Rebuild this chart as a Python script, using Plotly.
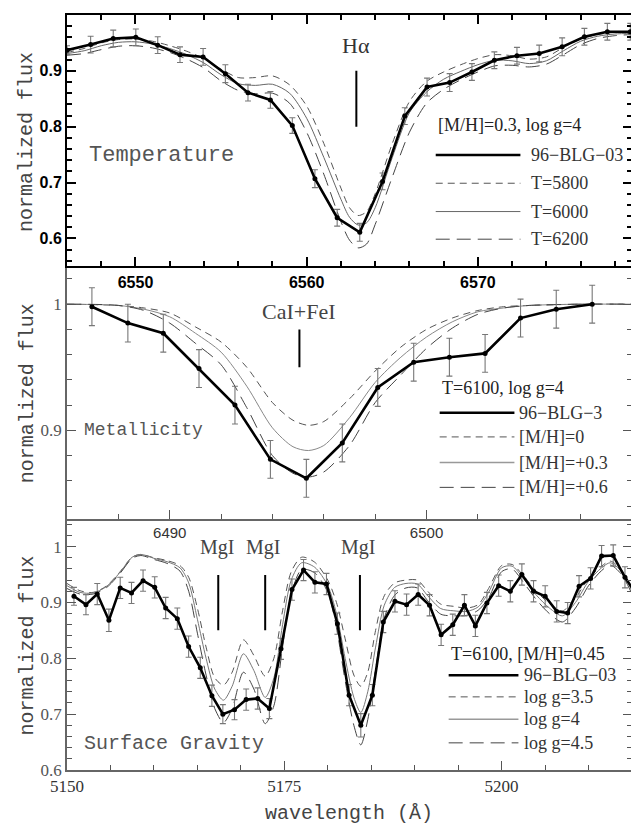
import plotly.graph_objects as go

# ---------------- Top panel: H-alpha, Temperature ----------------
ha_wave = [6546.0, 6547.38, 6548.70, 6550.02, 6551.3, 6552.6, 6553.95, 6555.25, 6556.57,
           6557.88, 6559.16, 6560.48, 6561.78, 6563.1, 6564.43, 6565.73, 6567.03, 6568.35,
           6569.65, 6570.96, 6572.28, 6573.58, 6574.92, 6576.22, 6577.56, 6578.9]
ha_flux = [0.937, 0.947, 0.958, 0.960, 0.946, 0.929, 0.925, 0.895, 0.861, 0.848, 0.802,
           0.707, 0.637, 0.611, 0.702, 0.819, 0.871, 0.879, 0.898, 0.919, 0.927, 0.931,
           0.943, 0.961, 0.970, 0.970]
ha_err = [0.008, 0.015, 0.015, 0.015, 0.015, 0.014, 0.015, 0.016, 0.015, 0.015, 0.014,
          0.016, 0.015, 0.016, 0.015, 0.015, 0.016, 0.016, 0.015, 0.015, 0.015, 0.015,
          0.016, 0.015, 0.015, 0.015]
ha_model_wave = [6546, 6547, 6548, 6549, 6550, 6551, 6552, 6553, 6554, 6555, 6556, 6557,
                 6558, 6559, 6560, 6561, 6562, 6562.5, 6563, 6563.5, 6564, 6565, 6566,
                 6567, 6568, 6569, 6570, 6571, 6572, 6573, 6574, 6575, 6576, 6577, 6578, 6579]
ha_t5800 = [0.933, 0.940, 0.950, 0.956, 0.957, 0.953, 0.945, 0.935, 0.922, 0.903, 0.888,
            0.888, 0.891, 0.875, 0.837, 0.770, 0.690, 0.655, 0.641, 0.648, 0.680, 0.770,
            0.845, 0.881, 0.898, 0.911, 0.922, 0.929, 0.927, 0.921, 0.925, 0.942, 0.957,
            0.965, 0.969, 0.970]
ha_t6000 = [0.931, 0.936, 0.945, 0.951, 0.952, 0.948, 0.940, 0.929, 0.914, 0.893, 0.877,
            0.874, 0.876, 0.860, 0.815, 0.745, 0.670, 0.638, 0.624, 0.628, 0.655, 0.745,
            0.825, 0.862, 0.885, 0.899, 0.911, 0.919, 0.918, 0.913, 0.918, 0.936, 0.953,
            0.962, 0.966, 0.967]
ha_t6200 = [0.928, 0.931, 0.938, 0.944, 0.945, 0.941, 0.933, 0.921, 0.905, 0.882, 0.865,
            0.859, 0.860, 0.842, 0.790, 0.715, 0.630, 0.597, 0.583, 0.590, 0.625, 0.710,
            0.790, 0.842, 0.867, 0.884, 0.898, 0.909, 0.910, 0.907, 0.912, 0.929, 0.947,
            0.958, 0.963, 0.965]
ha_xticks = [6550, 6560, 6570]
ha_yticks = [0.6, 0.7, 0.8, 0.9, 1.0]
ha_yticklabels = ["0.6", "0.7", "0.8", "0.9", "1"]

# ---------------- Middle panel: CaI+FeI, Metallicity ----------------
ca_wave = [6486.97, 6488.37, 6489.75, 6491.14, 6492.54, 6493.92, 6495.32, 6496.72,
           6498.10, 6499.50, 6500.89, 6502.28, 6503.66, 6505.05, 6506.45]
ca_flux = [0.998, 0.985, 0.977, 0.949, 0.920, 0.877, 0.862, 0.890, 0.934, 0.954, 0.958,
           0.961, 0.989, 0.996, 1.000]
ca_err = [0.015, 0.015, 0.015, 0.015, 0.015, 0.015, 0.015, 0.015, 0.015, 0.015, 0.015,
          0.015, 0.015, 0.015, 0.015]
ca_model_wave = [6486, 6488, 6489, 6490, 6491, 6492, 6493, 6494, 6494.8, 6495.4, 6496,
                 6497, 6498, 6499, 6500, 6501, 6502, 6503, 6504, 6506, 6508]
ca_mh00 = [1.000, 0.999, 0.997, 0.993, 0.982, 0.970, 0.950, 0.922, 0.908, 0.904, 0.907,
           0.925, 0.947, 0.966, 0.980, 0.989, 0.995, 0.998, 0.999, 1.000, 1.000]
ca_mh03 = [1.000, 0.999, 0.996, 0.990, 0.977, 0.962, 0.935, 0.902, 0.887, 0.884, 0.888,
           0.910, 0.938, 0.958, 0.974, 0.986, 0.994, 0.997, 0.999, 1.000, 1.000]
ca_mh06 = [1.000, 0.999, 0.995, 0.985, 0.969, 0.952, 0.918, 0.880, 0.866, 0.863, 0.867,
           0.888, 0.922, 0.944, 0.965, 0.981, 0.992, 0.997, 0.999, 1.000, 1.000]
ca_xticks = [6490, 6500]
ca_yticks = [0.9, 1.0]
ca_yticklabels = ["0.9", "1"]

# ---------------- Bottom panel: MgI triplet, Surface Gravity ----------------
mg_wave = [5150.80, 5152.18, 5153.48, 5154.82, 5156.12, 5157.42, 5158.75, 5160.09,
           5161.35, 5162.69, 5163.99, 5165.33, 5166.67, 5167.93, 5169.27, 5170.61,
           5171.94, 5173.28, 5174.62, 5175.88, 5177.21, 5178.52, 5179.85, 5181.11,
           5182.45, 5183.80, 5185.13, 5186.39, 5187.73, 5189.07, 5190.40, 5191.71,
           5193.04, 5194.38, 5195.72, 5196.98, 5198.31, 5199.66, 5201.00, 5202.33,
           5203.67, 5205.01, 5206.34, 5207.60, 5208.91, 5210.24, 5211.50, 5212.84,
           5214.19, 5215.5]
mg_flux = [0.911, 0.896, 0.915, 0.868, 0.926, 0.917, 0.939, 0.927, 0.890, 0.871, 0.821,
           0.783, 0.733, 0.700, 0.708, 0.726, 0.728, 0.710, 0.817, 0.923, 0.958, 0.936,
           0.933, 0.862, 0.734, 0.680, 0.734, 0.865, 0.902, 0.896, 0.914, 0.895, 0.842,
           0.860, 0.895, 0.858, 0.899, 0.930, 0.920, 0.950, 0.920, 0.911, 0.884, 0.881,
           0.929, 0.943, 0.983, 0.984, 0.945, 0.915]
mg_err = [0.016, 0.018, 0.019, 0.020, 0.019, 0.019, 0.019, 0.019, 0.019, 0.019, 0.019,
          0.019, 0.019, 0.017, 0.018, 0.019, 0.019, 0.018, 0.019, 0.019, 0.019, 0.019,
          0.019, 0.019, 0.019, 0.021, 0.019, 0.019, 0.019, 0.019, 0.019, 0.019, 0.019,
          0.019, 0.019, 0.019, 0.019, 0.019, 0.019, 0.019, 0.019, 0.019, 0.019, 0.019,
          0.019, 0.019, 0.019, 0.019, 0.019, 0.019]
mg_model_wave = [5150, 5151.5, 5153, 5154.5, 5156, 5157.5, 5158.5, 5160, 5161.5, 5163,
                 5164, 5165, 5166, 5167, 5168, 5169, 5170.3, 5171.5, 5172.8, 5173.8,
                 5174.8, 5175.8, 5177, 5178.5, 5180, 5181, 5182, 5183, 5183.8, 5184.6,
                 5185.5, 5186.5, 5187.7, 5189, 5190.3, 5191.5, 5193, 5194.5, 5196,
                 5197.3, 5198.5, 5200, 5201.2, 5202.5, 5204, 5205.5, 5207, 5208.5,
                 5210, 5211.5, 5212.5, 5213.8, 5215]
mg_g35 = [0.934, 0.921, 0.918, 0.929, 0.953, 0.981, 0.986, 0.980, 0.975, 0.966, 0.945,
          0.890, 0.820, 0.765, 0.752, 0.775, 0.833, 0.805, 0.768, 0.800, 0.885, 0.955,
          0.981, 0.972, 0.940, 0.900, 0.835, 0.770, 0.750, 0.775, 0.850, 0.912, 0.935,
          0.940, 0.940, 0.920, 0.897, 0.893, 0.890, 0.896, 0.925, 0.966, 0.968, 0.948,
          0.920, 0.898, 0.885, 0.908, 0.943, 0.965, 0.974, 0.958, 0.925]
mg_g40 = [0.930, 0.918, 0.917, 0.928, 0.952, 0.981, 0.986, 0.979, 0.973, 0.962, 0.935,
          0.870, 0.800, 0.745, 0.725, 0.750, 0.808, 0.778, 0.730, 0.765, 0.860, 0.940,
          0.971, 0.963, 0.930, 0.880, 0.800, 0.730, 0.703, 0.740, 0.820, 0.895, 0.927,
          0.934, 0.933, 0.912, 0.889, 0.885, 0.884, 0.892, 0.918, 0.962, 0.965, 0.943,
          0.913, 0.890, 0.876, 0.900, 0.938, 0.962, 0.971, 0.955, 0.920]
mg_g45 = [0.925, 0.915, 0.915, 0.926, 0.950, 0.979, 0.984, 0.977, 0.970, 0.956, 0.920,
          0.845, 0.770, 0.710, 0.685, 0.710, 0.775, 0.745, 0.683, 0.715, 0.820, 0.915,
          0.959, 0.953, 0.918, 0.855, 0.760, 0.680, 0.645, 0.690, 0.780, 0.872, 0.913,
          0.926, 0.926, 0.903, 0.879, 0.876, 0.877, 0.886, 0.908, 0.955, 0.960, 0.936,
          0.905, 0.880, 0.865, 0.890, 0.930, 0.957, 0.967, 0.950, 0.915]
mg_xticks = [5150, 5175, 5200]
mg_yticks = [0.6, 0.7, 0.8, 0.9, 1.0]
mg_yticklabels = ["0.6", "0.7", "0.8", "0.9", "1"]

# line markers (feature identifications)
ha_line_pos = [6562.9]
ca_line_pos = [6495.05]
mg_line_pos = [5167.4, 5172.8, 5183.7]

SHORT = "7px,5px"
LONG = "14px,7px"
ERRC = "#777777"
SERIF = "Liberation Serif"
MONO = "Liberation Mono"
SANS = "Liberation Sans"

fig = go.Figure()


def add_panel(xa, ya, mw, models, wave, flux, err):
    for vals, dash, col in models:
        fig.add_trace(go.Scatter(x=mw, y=vals, mode="lines", xaxis=xa, yaxis=ya,
                                 line=dict(color=col, width=1, dash=dash, shape="spline",
                                           smoothing=0.8),
                                 showlegend=False, hoverinfo="skip"))
    fig.add_trace(go.Scatter(x=wave, y=flux, mode="lines+markers", xaxis=xa, yaxis=ya,
                             line=dict(color="black", width=2.6),
                             marker=dict(color="black", size=5),
                             error_y=dict(type="data", array=err, color=ERRC,
                                          thickness=1.1, width=3),
                             showlegend=False))


add_panel("x3", "y3", ha_model_wave,
          [(ha_t5800, SHORT, "#555555"), (ha_t6000, "solid", "#666666"),
           (ha_t6200, LONG, "#444444")], ha_wave, ha_flux, ha_err)
add_panel("x2", "y2", ca_model_wave,
          [(ca_mh00, SHORT, "#555555"), (ca_mh03, "solid", "#888888"),
           (ca_mh06, LONG, "#444444")], ca_wave, ca_flux, ca_err)
add_panel("x", "y", mg_model_wave,
          [(mg_g35, SHORT, "#555555"), (mg_g40, "solid", "#777777"),
           (mg_g45, LONG, "#444444")], mg_wave, mg_flux, mg_err)

shapes = []
annotations = []


def ann(text, xref, yref, x, y, font, xanchor="center", yanchor="middle", **kw):
    annotations.append(dict(text=text, xref=xref, yref=yref, x=x, y=y, xanchor=xanchor,
                            yanchor=yanchor, showarrow=False, font=font, **kw))


# feature marks
for p in ha_line_pos:
    shapes.append(dict(type="line", xref="x3", yref="y3", x0=p, x1=p, y0=0.8, y1=0.9,
                       line=dict(color="black", width=2)))
ann("Hα", "x3", "y3", ha_line_pos[0], 0.946, dict(family=SERIF, size=22, color="#333"))
for p in ca_line_pos:
    shapes.append(dict(type="line", xref="x2", yref="y2", x0=p, x1=p, y0=0.950, y1=0.980,
                       line=dict(color="black", width=2)))
ann("CaI+FeI", "x2", "y2", ca_line_pos[0], 0.994, dict(family=SERIF, size=22, color="#444"))
for p in mg_line_pos:
    shapes.append(dict(type="line", xref="x", yref="y", x0=p, x1=p, y0=0.85, y1=0.949,
                       line=dict(color="black", width=2)))
    ann("MgI", "x", "y", p - 0.2, 0.999, dict(family=SERIF, size=20, color="#444"))

# panel labels
ann("Temperature", "x3 domain", "y3 domain", 0.035, 0.44,
    dict(family=MONO, size=22, color="#555"), xanchor="left")
ann("Metallicity", "x2 domain", "y2 domain", 0.026, 0.352,
    dict(family=MONO, size=18, color="#555"), xanchor="left")
ann("Surface Gravity", "x domain", "y domain", 0.026, 0.106,
    dict(family=MONO, size=20, color="#555"), xanchor="left")


def legend(xr, yr, header, hx, hy, x0, x1, tx, rows, size):
    ann(header, xr, yr, hx, hy, dict(family=SERIF, size=size, color="#222"), xanchor="left")
    for label, y, dash, col, w in rows:
        shapes.append(dict(type="line", xref=xr, yref=yr, x0=x0, x1=x1, y0=y, y1=y,
                           line=dict(color=col, width=w, dash=dash)))
        ann(label, xr, yr, tx, y, dict(family=SERIF, size=size, color="#333"),
            xanchor="left")


legend("x3 domain", "y3 domain", "[M/H]=0.3, log g=4", 0.6526, 0.5635, 0.6526, 0.8025,
       0.818,
       [("96−BLG−03", 0.443, "solid", "black", 2.6),
        ("T=5800", 0.3306, SHORT, "#555", 1),
        ("T=6000", 0.218, "solid", "#666", 1),
        ("T=6200", 0.108, LONG, "#444", 1)], 18)
legend("x2 domain", "y2 domain", "T=6100, log g=4", 0.6596, 0.519, 0.6596, 0.7919, 0.797,
       [("96−BLG−3", 0.420, "solid", "black", 2.6),
        ("[M/H]=0", 0.324, SHORT, "#555", 1),
        ("[M/H]=+0.3", 0.2225, "solid", "#999", 1.5),
        ("[M/H]=+0.6", 0.124, LONG, "#444", 1)], 18)
legend("x domain", "y domain", "T=6100, [M/H]=0.45", 0.6755, 0.463, 0.6755, 0.799, 0.806,
       [("96−BLG−03", 0.377, "solid", "black", 2.6),
        ("log g=3.5", 0.291, SHORT, "#555", 1),
        ("log g=4", 0.2024, "solid", "#999", 1.5),
        ("log g=4.5", 0.108, LONG, "#444", 1)], 18)

# axis titles
for yy in [0.832, 0.4993, 0.165]:
    ann("normalized flux", "paper", "paper", -0.0705, yy,
        dict(family=MONO, size=20, color="#444"), textangle=-90)
ann("wavelength (Å)", "paper", "paper", 0.499, -0.057,
    dict(family=MONO, size=20, color="#444"))

D_BOT = [0, 0.3329]
D_MID = [0.3329, 0.6671]
D_TOP = [0.6671, 1.0]

top_font = dict(family=SANS, size=16, color="black", weight="bold")
gray_serif = dict(family=SERIF, size=17, color="#555")

# the page body adds an 8px offset, so the canvas is 8px smaller on each axis
fig.update_layout(
    width=631, height=816,
    margin=dict(l=59, r=5, t=5, b=54),
    paper_bgcolor="white", plot_bgcolor="white",
    showlegend=False,
    shapes=shapes, annotations=annotations,
    # top panel
    xaxis3=dict(domain=[0, 1], anchor="y3", range=[6546, 6579], tickvals=ha_xticks,
                ticks="inside", ticklen=9, tickwidth=1.5, tickcolor="black",
                showline=True, linecolor="black", linewidth=2, mirror="ticks",
                showgrid=False, zeroline=False, tickfont=top_font,
                minor=dict(dtick=2, ticks="inside", ticklen=5, tickcolor="black",
                           showgrid=False)),
    yaxis3=dict(domain=D_TOP, anchor="x3", range=[0.55, 1.0], tickvals=ha_yticks,
                ticktext=ha_yticklabels, ticks="inside", ticklen=9, tickwidth=1.5,
                tickcolor="black", showline=True, linecolor="black", linewidth=2,
                mirror="ticks", showgrid=False, zeroline=False, tickfont=top_font,
                minor=dict(dtick=0.02, ticks="inside", ticklen=5, tickcolor="black",
                           showgrid=False)),
    # middle panel
    xaxis2=dict(domain=[0, 1], anchor="y2", range=[6486, 6508], tickvals=ca_xticks,
                ticks="inside", ticklen=9, tickwidth=1.2, tickcolor="#555",
                showline=True, linecolor="#666", linewidth=1.5, mirror=False,
                showgrid=False, zeroline=False,
                tickfont=dict(family=SANS, size=15, color="#333"),
                minor=dict(dtick=2, ticks="inside", ticklen=5, tickcolor="#555",
                           showgrid=False)),
    yaxis2=dict(domain=D_MID, anchor="x2", range=[0.83, 1.03], tickvals=ca_yticks,
                ticktext=ca_yticklabels, ticks="inside", ticklen=9, tickwidth=1.2,
                tickcolor="#555", showline=True, linecolor="#666", linewidth=1.5,
                mirror="ticks", showgrid=False, zeroline=False, tickfont=gray_serif,
                minor=dict(dtick=0.02, ticks="inside", ticklen=5, tickcolor="#555",
                           showgrid=False)),
    # bottom panel
    xaxis=dict(domain=[0, 1], anchor="y", range=[5150, 5215], tickvals=mg_xticks,
               ticks="inside", ticklen=9, tickwidth=1.2, tickcolor="#555",
               showline=True, linecolor="#666", linewidth=1.5, mirror=False,
               showgrid=False, zeroline=False,
               tickfont=dict(family=SERIF, size=17, color="#333"),
               minor=dict(dtick=5, ticks="inside", ticklen=5, tickcolor="#555",
                          showgrid=False)),
    yaxis=dict(domain=D_BOT, anchor="x", range=[0.6, 1.05], tickvals=mg_yticks,
               ticktext=mg_yticklabels, ticks="inside", ticklen=9, tickwidth=1.2,
               tickcolor="#555", showline=True, linecolor="#666", linewidth=1.5,
               mirror="ticks", showgrid=False, zeroline=False, tickfont=gray_serif,
               minor=dict(dtick=0.02, ticks="inside", ticklen=5, tickcolor="#555",
                          showgrid=False)),
)

fig.write_html("out.html")
